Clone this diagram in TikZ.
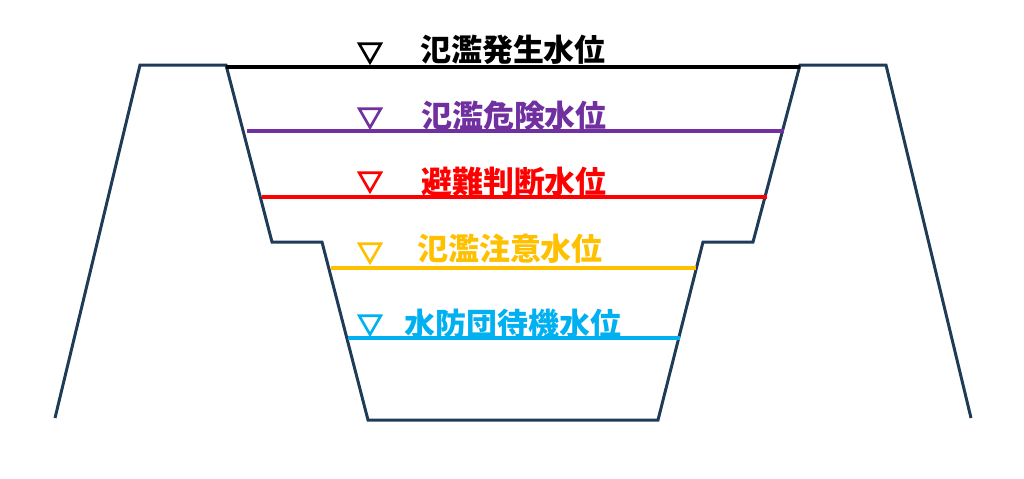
\documentclass[tikz,border=0pt]{standalone}
\usepackage{fontspec}
\newfontfamily\jpfont{Noto Sans CJK JP}
\usepackage{tikz}
\usetikzlibrary{shapes.geometric, positioning, calc}
\definecolor{banknavy}{HTML}{1F3B57}
\definecolor{lvpurple}{HTML}{7030A0}
\definecolor{lvred}{HTML}{FF0000}
\definecolor{lvyellow}{HTML}{FFC000}
\definecolor{lvcyan}{HTML}{00B0F0}
\begin{document}
\begin{tikzpicture}[
    x=0.02cm, y=-0.02cm,
    every node/.style={font=\jpfont\bfseries\fontsize{17.6pt}{20pt}\selectfont, inner sep=0pt},
    bank/.style={draw=banknavy, line width=1.7pt, line join=miter},
    level/.style={line width=2.6pt},
    tri/.style={regular polygon, regular polygon sides=3, shape border rotate=180, draw, line width=1.5pt, minimum size=0.5cm, inner sep=0pt},
    lbl/.style={anchor=center}
]
    \useasboundingbox (0,0) rectangle (1024,478);

    % Bank profile
    \coordinate (lfoot) at (55,418);
    \coordinate (ltop) at (140,65);
    \coordinate (lcrest) at (226,65);
    \coordinate (lstep) at (272,242);
    \coordinate (lberm) at (322,242);
    \coordinate (lbed) at (368,420);
    \coordinate (rbed) at (658,420);
    \coordinate (rberm) at (703,242);
    \coordinate (rstep) at (753,242);
    \coordinate (rcrest) at (800,65);
    \coordinate (rtop) at (886,65);
    \coordinate (rfoot) at (971,418);
    \draw[bank] (lfoot) -- (ltop) -- (lcrest) -- (lstep) -- (lberm) -- (lbed)
        -- (rbed) -- (rberm) -- (rstep) -- (rcrest) -- (rtop) -- (rfoot);

    % Water levels
    \coordinate (w1l) at (226,67);  \coordinate (w1r) at (800,67);
    \coordinate (w2l) at (247,131); \coordinate (w2r) at (784,131);
    \coordinate (w3l) at (262,197); \coordinate (w3r) at (767,197);
    \coordinate (w4l) at (331,268); \coordinate (w4r) at (696,268);
    \coordinate (w5l) at (348,338); \coordinate (w5r) at (680,338);
    \draw[level, black] (w1l) -- (w1r);
    \draw[level, lvpurple] (w2l) -- (w2r);
    \draw[level, lvred] (w3l) -- (w3r);
    \draw[level, lvyellow] (w4l) -- (w4r);
    \draw[level, lvcyan] (w5l) -- (w5r);

    % Marks
    \node[tri, draw=black] (t1) at (370,50) {};
    \node[tri, draw=lvpurple] (t2) at (370,115) {};
    \node[tri, draw=lvred] (t3) at (370,179) {};
    \node[tri, draw=lvyellow] (t4) at (370,250) {};
    \node[tri, draw=lvcyan] (t5) at (370,322) {};

    % Labels
    \node[lbl, text=black] (l1) at (513,50) {氾濫発生水位};
    \node[lbl, text=lvpurple] (l2) at (514,116) {氾濫危険水位};
    \node[lbl, text=lvred] (l3) at (514,182) {避難判断水位};
    \node[lbl, text=lvyellow] (l4) at (510,249) {氾濫注意水位};
    \node[lbl, text=lvcyan] (l5) at (513,324) {水防団待機水位};
\end{tikzpicture}
\end{document}
